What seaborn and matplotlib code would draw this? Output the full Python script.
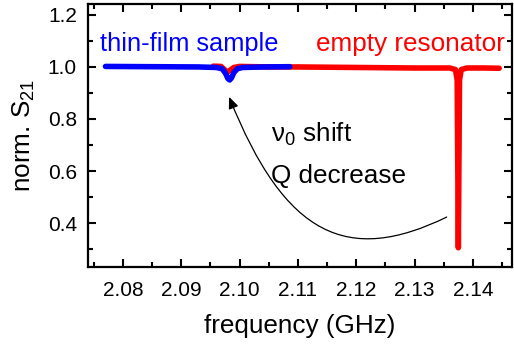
import matplotlib
matplotlib.use("Agg")
import matplotlib.pyplot as plt
import seaborn as sns
from matplotlib.path import Path
from matplotlib.patches import FancyArrowPatch
from matplotlib.ticker import MultipleLocator

# ---------- Data ----------
film_freq = [2.0770, 2.0850, 2.0930, 2.0960, 2.0970, 2.0976, 2.0980, 2.0983,
             2.0986, 2.0990, 2.0996, 2.1005, 2.1040, 2.1086]
film_s21 = [1.002, 1.001, 1.000, 0.998, 0.993, 0.975, 0.955, 0.950,
            0.958, 0.978, 0.993, 0.998, 1.000, 1.001]

empty_freq = [2.0955, 2.0968, 2.0974, 2.0978, 2.0982, 2.0990, 2.1000, 2.1050,
              2.1100, 2.1150, 2.1200, 2.1250, 2.1300, 2.1360, 2.1370, 2.1373,
              2.1375, 2.1377, 2.1380, 2.1390, 2.1420, 2.1445]
empty_s21 = [1.003, 1.002, 0.990, 0.978, 0.985, 0.998, 1.002, 1.000,
             1.000, 0.999, 0.998, 0.997, 0.996, 0.996, 0.990, 0.950,
             0.305, 0.950, 0.990, 0.996, 0.996, 0.995]

xticks = [2.08, 2.09, 2.10, 2.11, 2.12, 2.13, 2.14]
yticks = [0.4, 0.6, 0.8, 1.0, 1.2]

# ---------- Style ----------
sns.set_style("ticks")
plt.rcParams["font.family"] = ["Liberation Sans", "DejaVu Sans"]
plt.rcParams["mathtext.default"] = "regular"
plt.rcParams["xtick.direction"] = "in"
plt.rcParams["ytick.direction"] = "in"
plt.rcParams["text.color"] = "black"
plt.rcParams["axes.labelcolor"] = "black"

fig = plt.figure(figsize=(5.14, 3.48), dpi=100)
# axes box: x 88..512 px, y 4..267 px
ax = fig.add_axes([88 / 514, 81 / 348, 424 / 514, 263 / 348])

sns.lineplot(x=empty_freq, y=empty_s21, ax=ax, color="#ff0000", lw=4,
             sort=False, estimator=None)
sns.lineplot(x=film_freq, y=film_s21, ax=ax, color="#0000ff", lw=4,
             sort=False, estimator=None)

ax.set_xlim(2.074, 2.1467)
ax.set_ylim(0.231, 1.242)
ax.set_xticks(xticks)
ax.set_xticklabels([f"{t:.2f}" for t in xticks])
ax.set_yticks(yticks)
ax.set_yticklabels([f"{t:.1f}" for t in yticks])
ax.xaxis.set_minor_locator(MultipleLocator(0.005))
ax.yaxis.set_minor_locator(MultipleLocator(0.1))
ax.tick_params(which="both", top=True, right=True, color="black", labelcolor="black")
ax.tick_params(which="major", length=6, width=1.5, labelsize=15)
ax.tick_params(axis="y", which="major", pad=8)
ax.tick_params(axis="x", which="major", pad=10)
ax.tick_params(which="minor", length=3.5, width=1.5)
for s in ax.spines.values():
    s.set_linewidth(1.6)
    s.set_color("black")

ax.set_xlabel("frequency (GHz)", fontsize=18.8)
ax.set_ylabel("norm. S$_{21}$", fontsize=18.8)
ax.xaxis.set_label_coords(0.5, -0.18)
ax.yaxis.set_label_coords(-0.12, 0.5)

ax.text(2.0761, 1.062, "thin-film sample", color="#0000ff", fontsize=18.3,
        ha="left", va="baseline")
ax.text(2.1131, 1.062, "empty resonator", color="#ff0000", fontsize=18.8,
        ha="left", va="baseline")
ax.text(2.1053, 0.7115, r"$\nu_0$ shift", fontsize=18.8, ha="left", va="baseline")
ax.text(2.1053, 0.554, "Q decrease", fontsize=18.8, ha="left", va="baseline")

# curved arrow from the empty-resonator dip back to the film dip
arrow_path = Path([(2.1355, 0.423), (2.1186, 0.2385), (2.1078, 0.346), (2.0982, 0.885)],
                  [Path.MOVETO, Path.CURVE4, Path.CURVE4, Path.CURVE4])
arrow_path = ax.transData.transform_path(arrow_path)
arrow_path = fig.transFigure.inverted().transform_path(arrow_path)
arrow = FancyArrowPatch(path=arrow_path, arrowstyle="-|>,head_length=7,head_width=3",
                        color="black", lw=0.9, transform=fig.transFigure)
fig.patches.append(arrow)

fig.savefig("out.png", dpi=100)
